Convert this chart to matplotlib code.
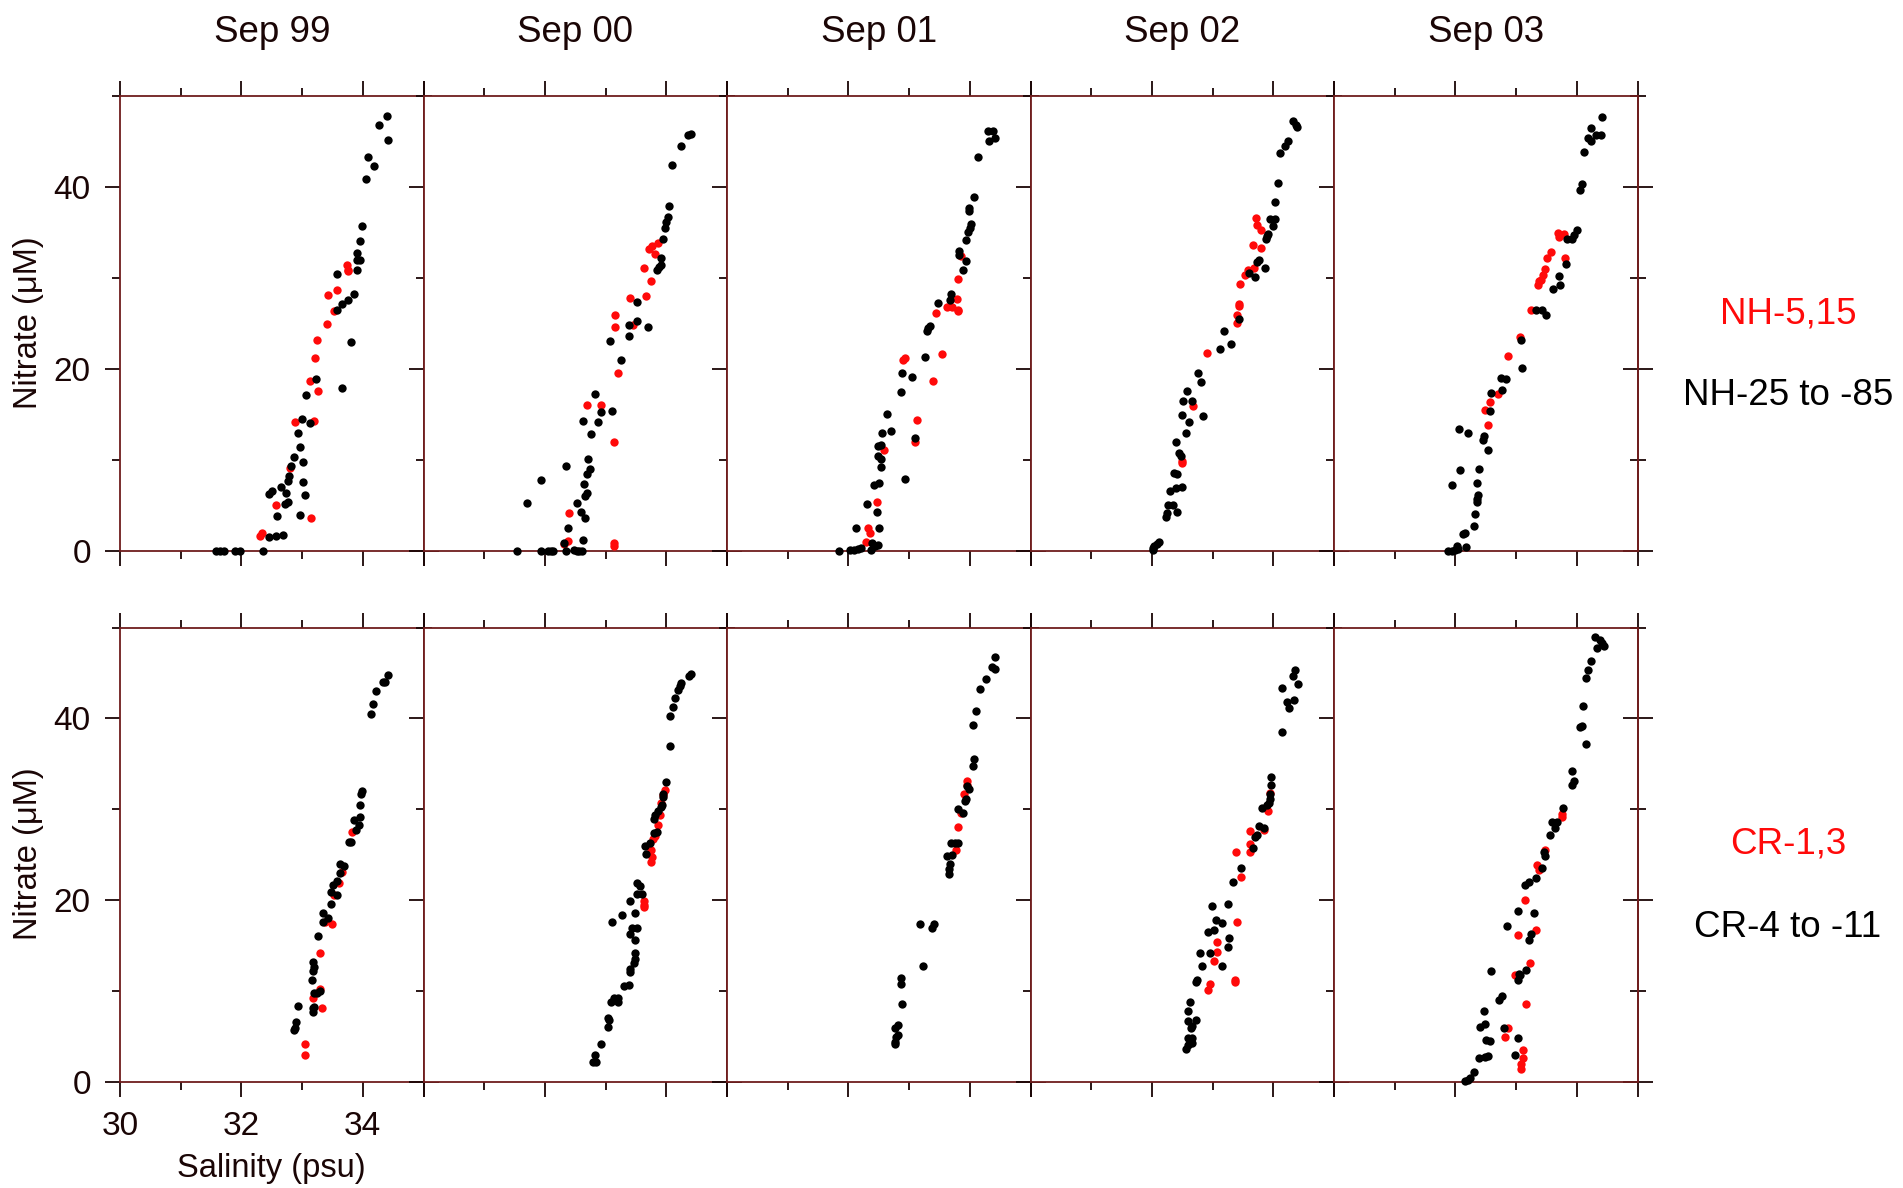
import matplotlib
matplotlib.use("Agg")
import matplotlib.pyplot as plt
from matplotlib.ticker import FixedLocator, NullFormatter

plt.rcParams['font.family'] = ['Liberation Sans', 'DejaVu Sans']

# =========================
# DADOS (salinidade psu, nitrato uM)
# =========================

titulos = ["Sep 99", "Sep 00", "Sep 01", "Sep 02", "Sep 03"]

# linha de cima: NH
nh99_red = [(32.3, 1.6), (32.34, 1.9), (32.57, 5.0), (32.8, 9.1), (32.88, 14.1), (33.14, 3.6),
            (33.13, 18.7), (33.19, 14.2), (33.22, 21.2), (33.24, 23.2), (33.26, 17.5), (33.41, 24.9),
            (33.42, 28.1), (33.52, 26.3), (33.58, 28.6), (33.74, 31.4), (33.76, 30.7), (33.75, 30.9)]
nh99_blk = [(31.58, 0), (31.65, 0), (31.71, 0), (31.9, 0), (31.97, 0), (32.36, 0), (32.45, 1.5),
            (32.57, 1.6), (32.69, 1.7), (32.46, 6.2), (32.5, 6.6), (32.59, 3.8), (32.66, 7.0),
            (32.73, 6.3), (32.72, 5.1), (32.76, 5.3), (32.77, 7.7), (32.79, 8.2), (32.81, 9.3),
            (32.86, 10.3), (32.94, 12.9), (32.97, 11.4), (33.0, 14.5), (33.02, 9.7), (33.02, 7.6),
            (33.04, 6.1), (32.97, 3.9), (33.06, 17.1), (33.13, 14.0), (33.23, 18.9), (33.58, 30.4),
            (33.57, 26.4), (33.66, 27.1), (33.75, 27.6), (33.86, 28.2), (33.66, 17.9), (33.81, 22.9),
            (33.9, 30.9), (33.91, 31.9), (33.96, 31.9), (33.91, 32.7), (33.95, 34.0), (33.98, 35.7),
            (34.05, 40.9), (34.09, 43.3), (34.18, 42.3), (34.27, 46.8), (34.4, 47.8), (34.42, 45.1)]

nh00_red = [(32.38, 1.1), (32.32, 0.7), (33.14, 0.8), (33.14, 0.5), (32.39, 4.1), (33.14, 11.9),
            (32.7, 16.0), (32.93, 16.0), (33.21, 19.5), (33.16, 25.9), (33.16, 24.6), (33.45, 24.8),
            (33.4, 27.8), (33.66, 28.0), (33.74, 29.6), (33.64, 31.1), (33.82, 32.6), (33.71, 33.2),
            (33.76, 33.5), (33.86, 33.8)]
nh00_blk = [(31.54, 0), (31.93, 0), (32.05, 0), (32.1, 0), (32.13, 0), (32.35, 0), (32.48, 0.1),
            (32.53, 0), (32.57, 0), (32.61, 0), (32.32, 0.9), (32.63, 1.2), (32.38, 2.5), (31.71, 5.2),
            (31.93, 7.8), (32.34, 9.3), (32.53, 5.2), (32.6, 4.3), (32.66, 3.6), (32.66, 6.0),
            (32.69, 6.3), (32.65, 7.3), (32.7, 8.4), (32.75, 9.0), (32.71, 10.1), (32.63, 14.3),
            (32.76, 12.8), (32.82, 17.2), (32.88, 14.1), (32.93, 15.2), (33.1, 15.4), (33.07, 23.0),
            (33.26, 21.0), (33.38, 23.6), (33.39, 24.8), (33.52, 25.2), (33.7, 24.6), (33.51, 27.3),
            (33.84, 30.9), (33.88, 31.2), (33.91, 32.2), (33.92, 31.4), (33.95, 34.3), (33.98, 35.5),
            (34.0, 36.1), (34.03, 36.7), (34.04, 37.9), (34.1, 42.4), (34.24, 44.5), (34.35, 45.7),
            (34.4, 45.8)]

nh01_red = [(32.29, 1.0), (32.32, 2.5), (32.36, 2.0), (32.47, 5.4), (32.58, 11.1), (33.1, 11.9),
            (33.13, 14.4), (33.4, 18.7), (32.9, 21.0), (32.94, 21.2), (33.55, 21.6), (33.45, 26.1),
            (33.63, 26.8), (33.71, 26.8), (33.79, 27.7), (33.8, 26.5), (33.8, 26.3), (33.81, 29.9),
            (33.86, 32.4)]
nh01_blk = [(31.84, 0), (32.02, 0.1), (32.1, 0.1), (32.16, 0.2), (32.2, 0.3), (32.38, 0.1),
            (32.43, 0.5), (32.49, 0.6), (32.39, 0.8), (32.13, 2.5), (32.51, 2.5), (32.47, 4.2),
            (32.31, 5.1), (32.42, 7.2), (32.51, 7.4), (32.93, 7.9), (32.53, 9.2), (32.48, 10.4),
            (32.53, 10.1), (32.48, 11.5), (32.53, 11.6), (32.56, 12.9), (32.7, 13.1), (32.64, 15.0),
            (33.09, 12.4), (32.86, 17.4), (32.89, 19.5), (33.05, 19.1), (33.27, 21.3), (33.29, 24.1),
            (33.31, 24.5), (33.35, 24.7), (33.47, 27.2), (33.67, 27.6), (33.69, 28.2), (33.88, 30.8),
            (33.93, 31.8), (33.82, 32.9), (33.83, 32.5), (33.94, 34.1), (33.97, 35.0), (34.0, 35.5),
            (34.02, 35.9), (33.98, 37.3), (33.98, 37.7), (34.07, 38.9), (34.14, 43.3), (34.3, 46.1),
            (34.39, 46.1), (34.31, 45.0), (34.41, 45.4)]

nh02_red = [(32.49, 9.6), (32.49, 9.9), (32.68, 15.9), (32.91, 21.7), (33.4, 25.0), (33.4, 25.9),
            (33.43, 27.1), (33.43, 26.9), (33.45, 29.3), (33.53, 30.3), (33.58, 30.9), (33.68, 31.1),
            (33.66, 33.6), (33.8, 33.3), (33.73, 35.8), (33.79, 35.2), (33.71, 36.6)]
nh02_blk = [(32.01, 0.3), (32.04, 0.5), (32.08, 0.7), (32.12, 1.0), (32.02, 0.1), (32.24, 3.7),
            (32.25, 4.1), (32.27, 5.0), (32.34, 5.0), (32.41, 4.3), (32.3, 6.6), (32.39, 6.9),
            (32.49, 7.0), (32.37, 8.5), (32.42, 8.4), (32.44, 10.7), (32.48, 10.4), (32.4, 11.9),
            (32.57, 12.9), (32.61, 14.1), (32.5, 14.9), (32.85, 14.8), (32.52, 16.5), (32.66, 16.4),
            (32.58, 17.6), (32.81, 18.5), (32.76, 19.5), (33.12, 22.2), (33.31, 22.7), (33.19, 24.1),
            (33.43, 25.5), (33.6, 30.5), (33.7, 30.1), (33.73, 31.7), (33.76, 31.9), (33.87, 31.1),
            (33.88, 34.2), (33.9, 34.6), (33.92, 34.8), (33.99, 35.7), (34.03, 36.4), (33.95, 36.5),
            (34.02, 38.3), (34.07, 40.4), (34.11, 43.7), (34.2, 44.5), (34.24, 45.0), (34.33, 47.2),
            (34.38, 46.8), (34.39, 46.6)]

nh03_red = [(32.49, 15.5), (32.53, 13.8), (32.57, 16.3), (32.71, 17.2), (32.87, 21.4), (33.06, 23.5),
            (33.25, 26.4), (33.36, 29.2), (33.38, 29.6), (33.41, 29.8), (33.44, 30.3), (33.47, 31.0),
            (33.51, 32.2), (33.57, 32.8), (33.8, 32.2), (33.69, 34.9), (33.7, 34.5), (33.79, 34.8)]
nh03_blk = [(31.88, 0), (31.94, 0), (31.99, 0.1), (32.04, 0.2), (32.02, 0.5), (32.18, 0.4),
            (32.13, 1.8), (32.15, 1.9), (32.31, 2.7), (32.32, 4.0), (32.35, 5.3), (32.36, 5.7),
            (32.38, 6.1), (32.35, 7.4), (31.94, 7.2), (32.08, 8.9), (32.39, 9.0), (32.53, 11.1),
            (32.45, 12.2), (32.47, 12.6), (32.06, 13.4), (32.2, 12.9), (32.57, 15.4), (32.59, 17.3),
            (32.77, 17.7), (32.75, 19.0), (32.84, 18.9), (33.09, 20.1), (33.08, 23.1), (33.32, 26.4),
            (33.43, 26.5), (33.49, 25.9), (33.6, 28.8), (33.71, 30.2), (33.72, 29.2), (33.83, 31.5),
            (33.84, 34.3), (33.92, 34.2), (33.96, 34.7), (34.0, 35.2), (34.05, 39.6), (34.08, 40.3),
            (34.12, 43.8), (34.19, 45.4), (34.23, 45.0), (34.23, 46.4), (34.32, 45.7), (34.4, 45.7),
            (34.42, 47.7)]

# linha de baixo: CR
cr99_red = [(33.05, 4.1), (33.05, 2.9), (33.18, 9.2), (33.3, 10.2), (33.32, 8.1), (33.3, 14.1),
            (33.38, 17.6), (33.5, 17.3), (33.53, 20.5), (33.61, 21.9), (33.65, 23.1), (33.83, 27.5)]
cr99_blk = [(32.86, 5.7), (32.88, 5.9), (32.9, 6.5), (32.94, 8.3), (33.18, 7.6), (33.18, 8.1),
            (33.19, 8.2), (33.19, 9.7), (33.24, 9.8), (33.3, 10.0), (33.16, 11.2), (33.18, 12.2),
            (33.19, 12.6), (33.18, 13.2), (33.26, 16.0), (33.34, 17.6), (33.35, 18.6), (33.42, 18.0),
            (33.47, 19.5), (33.47, 20.9), (33.51, 21.6), (33.57, 20.5), (33.58, 22.1), (33.62, 23.0),
            (33.62, 23.9), (33.69, 23.7), (33.78, 26.4), (33.81, 26.4), (33.86, 28.8), (33.89, 27.7),
            (33.93, 28.3), (33.96, 29.1), (33.96, 30.4), (33.98, 32.0), (33.97, 31.7), (34.13, 40.5),
            (34.16, 41.6), (34.22, 43.0), (34.34, 44.0), (34.37, 44.0), (34.42, 44.8)]

cr00_red = [(33.63, 19.9), (33.63, 19.4), (33.64, 19.2), (33.75, 24.2), (33.76, 24.7), (33.74, 25.5),
            (33.78, 26.7), (33.81, 27.0), (33.86, 28.2), (33.89, 29.4), (33.92, 30.7), (33.95, 31.5),
            (33.98, 32.1)]
cr00_blk = [(32.79, 2.2), (32.85, 2.2), (32.83, 2.9), (32.93, 4.1), (33.04, 6.0), (33.05, 6.8),
            (33.04, 7.0), (33.09, 8.8), (33.14, 9.2), (33.2, 8.8), (33.21, 9.2), (33.31, 10.5),
            (33.38, 10.6), (33.4, 12.1), (33.41, 12.4), (33.47, 13.1), (33.48, 13.5), (33.48, 14.2),
            (33.48, 15.6), (33.4, 16.2), (33.44, 16.9), (33.52, 16.9), (33.1, 17.6), (33.27, 18.3),
            (33.48, 18.6), (33.4, 19.9), (33.52, 20.7), (33.6, 20.6), (33.52, 21.9), (33.56, 21.5),
            (33.67, 25.1), (33.65, 25.9), (33.73, 26.3), (33.8, 27.4), (33.84, 27.5), (33.79, 28.9),
            (33.81, 29.4), (33.87, 29.8), (33.91, 30.2), (33.93, 30.4), (33.95, 31.3), (33.95, 31.7),
            (34.0, 33.0), (34.06, 36.9), (34.06, 40.2), (34.11, 41.2), (34.15, 42.2), (34.19, 43.1),
            (34.23, 43.6), (34.25, 43.9), (34.37, 44.7), (34.41, 44.9)]

cr01_red = [(33.78, 25.5), (33.81, 28.0), (33.85, 29.6), (33.91, 31.7), (33.95, 32.6), (33.96, 33.1)]
cr01_blk = [(32.76, 4.1), (32.77, 4.4), (32.81, 5.1), (32.79, 4.9), (32.76, 5.9), (32.81, 6.2),
            (32.89, 8.5), (32.86, 10.7), (32.87, 11.4), (33.23, 12.7), (33.18, 17.4), (33.37, 16.9),
            (33.41, 17.4), (33.65, 22.9), (33.66, 23.4), (33.68, 24.0), (33.62, 24.8), (33.7, 24.9),
            (33.69, 26.3), (33.76, 26.3), (33.8, 26.3), (33.81, 30.0), (33.89, 29.6), (33.92, 30.9),
            (33.93, 31.1), (33.96, 32.5), (33.98, 32.2), (34.05, 34.7), (34.07, 35.5), (34.05, 39.3),
            (34.1, 40.8), (34.16, 43.2), (34.26, 44.3), (34.37, 45.6), (34.41, 45.4), (34.42, 46.7)]

cr02_red = [(32.92, 10.1), (32.96, 10.7), (33.37, 11.2), (33.37, 11.0), (33.03, 13.3), (33.07, 14.3),
            (33.08, 15.4), (33.4, 17.6), (33.47, 22.5), (33.39, 25.3), (33.62, 25.3), (33.62, 26.2),
            (33.62, 27.6), (33.85, 27.7), (33.92, 29.8), (33.95, 31.8)]
cr02_blk = [(32.57, 3.6), (32.6, 4.0), (32.63, 4.2), (32.66, 4.2), (32.59, 4.8), (32.66, 4.8),
            (32.65, 5.9), (32.66, 6.1), (32.72, 6.8), (32.6, 6.7), (32.6, 7.8), (32.62, 8.8),
            (32.72, 11.0), (32.75, 11.2), (32.82, 12.7), (32.79, 14.1), (32.95, 14.1), (33.15, 12.7),
            (33.25, 14.8), (33.27, 15.8), (32.93, 16.5), (33.03, 16.7), (33.05, 17.8), (33.15, 17.5),
            (32.99, 19.3), (33.25, 19.5), (33.33, 22.0), (33.47, 23.5), (33.67, 25.7), (33.7, 26.9),
            (33.73, 27.2), (33.76, 28.1), (33.84, 27.9), (33.81, 30.1), (33.89, 30.5), (33.93, 30.7),
            (33.95, 31.1), (33.95, 31.7), (33.97, 32.6), (33.97, 33.5), (34.15, 38.5), (34.26, 41.1),
            (34.23, 41.8), (34.34, 42.0), (34.14, 43.3), (34.41, 43.8), (34.33, 44.7), (34.36, 45.3)]

cr03_red = [(33.08, 1.4), (33.08, 1.9), (33.11, 2.6), (33.12, 3.5), (32.82, 4.9), (32.87, 5.9),
            (33.17, 8.5), (32.99, 11.7), (33.23, 13.1), (33.03, 16.1), (33.32, 16.7), (33.15, 20.0),
            (33.35, 23.8), (33.38, 23.3), (33.48, 25.5), (33.75, 29.5), (33.76, 29.1)]
cr03_blk = [(32.16, 0.1), (32.2, 0.2), (32.24, 0.4), (32.3, 1.0), (32.39, 2.6), (32.48, 2.7),
            (32.54, 2.8), (32.5, 4.6), (32.57, 4.5), (32.41, 6.0), (32.48, 6.3), (32.47, 7.8),
            (32.72, 9.0), (32.77, 9.4), (32.59, 12.2), (32.8, 5.9), (32.99, 2.9), (33.03, 4.8),
            (33.03, 11.2), (33.04, 11.8), (33.07, 11.7), (33.17, 12.3), (32.85, 17.1), (33.21, 15.6),
            (33.25, 16.2), (33.03, 18.8), (33.3, 18.6), (33.15, 21.6), (33.21, 22.0), (33.32, 22.4),
            (33.43, 23.5), (33.47, 24.8), (33.46, 25.3), (33.56, 27.2), (33.64, 27.9), (33.59, 28.6),
            (33.67, 28.6), (33.77, 30.1), (33.92, 32.6), (33.95, 33.1), (33.92, 34.2), (34.15, 37.2),
            (34.05, 39.0), (34.08, 39.2), (34.11, 41.4), (34.15, 44.4), (34.18, 45.3), (34.24, 46.3),
            (34.33, 47.7), (34.3, 48.9), (34.38, 48.6), (34.42, 48.3), (34.45, 48.0)]

linha_nh = [(nh99_red, nh99_blk), (nh00_red, nh00_blk), (nh01_red, nh01_blk),
            (nh02_red, nh02_blk), (nh03_red, nh03_blk)]
linha_cr = [(cr99_red, cr99_blk), (cr00_red, cr00_blk), (cr01_red, cr01_blk),
            (cr02_red, cr02_blk), (cr03_red, cr03_blk)]

# =========================
# ESTILO
# =========================

W, H = 1903, 1188
cor_eixo = '#6e1c1c'
cor_tick = '#1a0505'
cor_texto = '#1a0505'
vermelho = '#ff0a0a'

fig = plt.figure(figsize=(W / 100, H / 100), dpi=100)

esquerdas = [120, 423.5, 727, 1030.5, 1334]
largura = 303.5
linhas = [(95.7, 550.7), (627.5, 1081.5)]   # topo, base em px

def painel(ax, red, blk, col, lin):
    ax.set_xlim(30, 35)
    ax.set_ylim(0, 50)
    for sp in ax.spines.values():
        sp.set_color(cor_eixo)
        sp.set_linewidth(1.3)
    rs, rn = zip(*red)
    bs, bn = zip(*blk)
    ax.scatter(rs, rn, s=36, color=vermelho, linewidths=0, clip_on=False, zorder=3)
    ax.scatter(bs, bn, s=36, color='black', linewidths=0, clip_on=False, zorder=4)

    ax.xaxis.set_major_locator(FixedLocator([30, 32, 34, 35]))
    ax.xaxis.set_minor_locator(FixedLocator([31, 33]))
    ax.yaxis.set_major_locator(FixedLocator([0, 20, 40]))
    ax.yaxis.set_minor_locator(FixedLocator([10, 30, 50]))

    ax.tick_params(which='both', direction='out', top=True, bottom=True, left=True,
                   right=(col < 4), color=cor_tick, width=1.3, labelcolor=cor_texto,
                   labelsize=24)
    ax.tick_params(which='major', length=11)
    ax.tick_params(which='minor', length=5.5)
    ax.tick_params(axis='x', pad=10)
    ax.tick_params(axis='y', pad=10)

    if col == 0:
        ax.set_yticklabels(['0', '20', '40'])
    else:
        ax.yaxis.set_major_formatter(NullFormatter())
    if col == 0 and lin == 1:
        ax.set_xticklabels(['30', '32', '34', ''])
    else:
        ax.xaxis.set_major_formatter(NullFormatter())

    if col == 4:
        # ultimo painel: ticks da direita para dentro e para fora
        sec = ax.secondary_yaxis('right')
        sec.spines['right'].set_color(cor_eixo)
        sec.spines['right'].set_linewidth(1.3)
        sec.yaxis.set_major_locator(FixedLocator([0, 20, 40]))
        sec.yaxis.set_minor_locator(FixedLocator([10, 30, 50]))
        sec.yaxis.set_major_formatter(NullFormatter())
        sec.tick_params(which='both', direction='inout', color=cor_tick, width=1.3)
        sec.tick_params(which='major', length=22)
        sec.tick_params(which='minor', length=11)


for lin, dados in enumerate([linha_nh, linha_cr]):
    topo, base = linhas[lin]
    for col, (red, blk) in enumerate(dados):
        ax = fig.add_axes([esquerdas[col] / W, 1 - base / H, largura / W, (base - topo) / H])
        painel(ax, red, blk, col, lin)

# =========================
# TEXTOS
# =========================

for col, t in enumerate(titulos):
    fig.text((esquerdas[col] + largura / 2) / W, 1 - 41.5 / H, t, ha='center',
             va='baseline', fontsize=26.5, color=cor_texto)

for yc in [323, 854]:
    fig.text(29 / W, 1 - yc / H, "Nitrate (\u03bcM)", rotation=90, ha='center',
             va='center', fontsize=23.5, color=cor_texto)

fig.text((esquerdas[0] + largura / 2) / W, 1 - 1168 / H, "Salinity (psu)", ha='center',
         va='center', fontsize=23.5, color=cor_texto)

fig.text(1788 / W, 1 - 324 / H, "NH-5,15", ha='center', va='baseline', fontsize=26.5, color=vermelho)
fig.text(1788 / W, 1 - 405 / H, "NH-25 to -85", ha='center', va='baseline', fontsize=26.5, color='black')
fig.text(1788 / W, 1 - 854 / H, "CR-1,3", ha='center', va='baseline', fontsize=26.5, color=vermelho)
fig.text(1788 / W, 1 - 937 / H, "CR-4 to -11", ha='center', va='baseline', fontsize=26.5, color='black')

fig.savefig("out.png", dpi=100)
